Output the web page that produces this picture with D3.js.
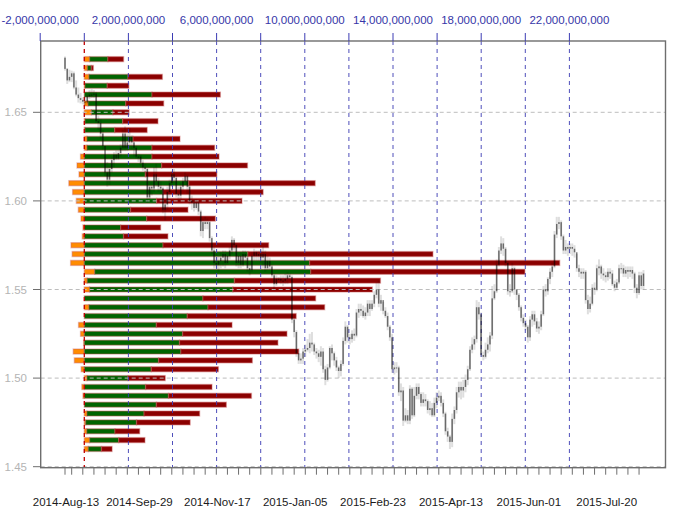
<!DOCTYPE html>
<html><head><meta charset="utf-8">
<script src="https://cdn.jsdelivr.net/npm/d3@7"></script>
<style>body{margin:0;background:#fff}svg{display:block;font-family:"Liberation Sans",Arial,sans-serif}</style>
</head><body><svg id="c" width="680" height="509"></svg>
<script>
// ---- volume profile (billions) ----
const priceLevels = [1.680,1.675,1.670,1.665,1.660,1.655,1.650,1.645,1.640,1.635,1.630,1.625,1.620,1.615,1.610,1.605,1.600,1.595,1.590,1.585,1.580,1.575,1.570,1.565,1.560,1.555,1.550,1.545,1.540,1.535,1.530,1.525,1.520,1.515,1.510,1.505,1.500,1.495,1.490,1.485,1.480,1.475,1.470,1.465,1.460];
const orangeVol = [0.24,0.14,0.21,0.03,0.00,0.17,0.32,0.03,0.03,0.12,0.12,-0.17,-0.33,-0.24,-0.70,-0.53,-0.36,-0.27,-0.15,-0.06,-0.09,-0.60,-0.55,-0.62,0.47,0.13,0.24,0.00,0.21,0.00,-0.26,-0.17,-0.03,-0.50,-0.45,-0.14,0.12,-0.11,-0.06,0.00,0.12,0.06,0.11,0.24,0.18];
const greenVol = [0.83,0.18,1.77,1.01,3.07,1.71,0.98,1.71,1.35,2.09,2.95,3.07,3.51,2.77,4.73,3.57,3.28,2.10,2.83,1.65,1.78,3.57,7.42,10.22,9.80,6.68,6.50,5.38,5.40,4.67,3.27,4.46,4.32,4.38,3.37,3.04,1.86,2.78,3.82,3.27,2.59,2.31,1.28,1.32,0.60];
const redVol = [0.71,0.09,1.56,0.98,3.10,1.72,0.73,1.60,1.47,2.13,2.84,3.04,3.89,3.24,5.74,4.54,3.87,2.60,3.11,1.81,2.01,4.79,8.39,11.34,9.71,6.62,6.32,5.11,5.29,4.94,3.43,4.73,4.46,5.34,4.25,3.04,1.69,3.01,3.76,3.17,2.52,2.43,1.12,1.19,0.48];

// ---- axes ----
const volTicks = [-2e9,0,2e9,4e9,6e9,8e9,10e9,12e9,14e9,16e9,18e9,20e9,22e9];
const volLabels = [-2e9,2e9,6e9,10e9,14e9,18e9,22e9];
const priceTicks = [1.45,1.50,1.55,1.60,1.65];
const dateLabels = ["2014-Aug-13","2014-Sep-29","2014-Nov-17","2015-Jan-05","2015-Feb-23","2015-Apr-13","2015-Jun-01","2015-Jul-20"];

// ---- daily prices (units of 1e-4), 2014-08-13 .. 2015-08-12 weekdays ----
const firstOpen = 16808;
const closeP = [
16745,16680,16700,
16720,16640,16600,16580,16570, 16560,16555,16590,16600,16600, 16605,16450,16440,16380,16310,
16160,16120,16180,16230,16260, 16240,16270,16300,16380,16300, 16330,16360,16330,16300,16250,
16250,16215,16190,16180,16020, 16080,16070,16150,16110,16080, 16070,15950,15980,16050,16100,
16150,16130,16040,16030,16080, 16110,16140,16080,16000,15990, 15960,15990,15940,15830,15880,
15870,15880,15790,15720,15650, 15640,15660,15680,15700,15650, 15690,15720,15780,15750,15650,
15690,15640,15700,15680,15620, 15610,15690,15710,15690,15700, 15680,15700,15620,15660,15630,
15580,15530,15560,15560,15550, 15550,15560,15580,15570,15330, 15260,15140,15100,15110,15150,
15160,15170,15200,15190,15150, 15140,15120,15150,15050,14990, 15060,15170,15140,15100,15060,
15040,15080,15210,15290,15230, 15220,15250,15240,15370,15390, 15380,15350,15370,15420,15390,
15420,15470,15500,15420,15440, 15380,15350,15290,15230,15050, 15060,15060,14920,14930,14760,
14790,14760,14940,14790,14900, 14950,14910,14860,14880,14870, 14820,14830,14790,14860,14890,
14900,14860,14800,14700,14670, 14640,14770,14820,14920,14950, 14930,14950,14990,15050,15160,
15190,15220,15400,15360,15130, 15120,15160,15190,15240,15450, 15490,15640,15720,15760,15730,
15650,15490,15490,15620,15500, 15470,15400,15340,15310,15290, 15230,15330,15360,15320,15280,
15290,15360,15500,15490,15560, 15600,15630,15810,15870,15880, 15800,15720,15740,15730,15740,
15730,15710,15620,15600,15590, 15600,15440,15390,15420,15510, 15500,15620,15630,15590,15580,
15570,15600,15590,15530,15510, 15540,15620,15620,15590,15610, 15600,15610,15590,15510,15480,
15580,15520,15590];
const highP = [
16815,16750,16740,
16735,16730,16680,16640,16610, 16585,16590,16600,16625,16630, 16625,16615,16480,16460,16400,
16250,16220,16200,16250,16275, 16285,16285,16320,16400,16420, 16380,16410,16370,16335,16310,
16265,16260,16230,16210,16185, 16110,16110,16190,16210,16130, 16110,16080,16010,16080,16120,
16170,16180,16140,16080,16100, 16130,16160,16150,16090,16030, 16010,16010,16000,15950,15900,
15910,15900,15890,15800,15740, 15700,15690,15710,15720,15720, 15710,15740,15800,15790,15760,
15710,15710,15720,15720,15700, 15650,15710,15730,15720,15720, 15720,15740,15720,15690,15680,
15640,15590,15580,15570,15580, 15580,15590,15600,15590,15580, 15340,15270,15160,15140,15170,
15190,15220,15250,15260,15200, 15170,15160,15180,15170,15070, 15080,15180,15190,15150,15120,
15070,15100,15230,15320,15300, 15250,15270,15280,15390,15420, 15420,15410,15400,15440,15440,
15440,15490,15540,15550,15470, 15430,15400,15370,15300,15250, 15090,15090,15070,14970,14950,
14830,14820,14960,14950,14950, 14970,14970,14920,14920,14910, 14880,14870,14860,14890,14920,
14930,14920,14880,14810,14720, 14680,14800,14840,14950,14980, 14980,14990,15020,15070,15180,
15230,15240,15440,15430,15370, 15150,15200,15230,15260,15520, 15530,15670,15740,15800,15790,
15740,15660,15530,15650,15630, 15500,15480,15410,15360,15330, 15300,15350,15380,15380,15340,
15320,15380,15520,15530,15570, 15620,15650,15830,15910,15910, 15890,15810,15780,15760,15760,
15760,15750,15700,15640,15620, 15620,15610,15470,15460,15530, 15540,15640,15670,15640,15620,
15600,15620,15620,15610,15550, 15560,15640,15650,15640,15630, 15630,15630,15630,15600,15530,
15600,15600,15610];
const lowP = [
16735,16660,16670,
16670,16630,16590,16555,16550, 16545,16540,16545,16575,16580, 16580,16440,16400,16350,16290,
16140,16080,16090,16160,16190, 16230,16230,16250,16280,16280, 16280,16310,16290,16250,16240,
16220,16200,16170,16150,15990, 16010,16030,16050,16080,16050, 16040,15930,15890,15950,16020,
16080,16100,16020,16000,16010, 16060,16090,16040,15980,15950, 15940,15950,15920,15800,15790,
15840,15840,15770,15700,15620, 15620,15600,15620,15630,15620, 15640,15670,15700,15720,15630,
15620,15620,15630,15650,15600, 15580,15600,15660,15660,15660, 15650,15620,15600,15610,15610,
15570,15500,15520,15550,15530, 15520,15530,15530,15550,15310, 15230,15120,15080,15080,15080,
15120,15150,15140,15150,15130, 15110,15090,15070,15030,14960, 14980,15050,15100,15070,15040,
15000,15010,15070,15190,15200, 15190,15200,15210,15230,15340, 15350,15340,15330,15350,15350,
15380,15400,15450,15400,15380, 15360,15340,15270,15210,15030, 15020,15030,14900,14870,14730,
14750,14740,14740,14770,14780, 14880,14880,14840,14840,14840, 14800,14790,14780,14780,14830,
14870,14840,14780,14680,14640, 14600,14610,14740,14800,14890, 14880,14890,14920,14960,15040,
15140,15160,15200,15330,15120, 15100,15110,15140,15150,15220, 15440,15480,15630,15700,15690,
15630,15470,15460,15480,15470, 15440,15380,15320,15290,15270, 15200,15210,15290,15300,15260,
15250,15270,15350,15460,15470, 15530,15570,15620,15790,15840, 15780,15700,15700,15690,15700,
15690,15680,15600,15570,15560, 15560,15420,15360,15370,15410, 15470,15490,15580,15560,15550,
15540,15550,15560,15520,15490, 15500,15530,15590,15570,15570, 15560,15570,15560,15480,15450,
15470,15500,15500];

// ---- layout ----
const plotL = 40.7, plotR = 665.5, plotT = 41, plotB = 467.7;
const svg = d3.select("#c");

const yS = d3.scaleLinear().domain([1.45, 1.65]).range([466.7, 112.3]);
const xV = d3.scaleLinear().domain([-2e9, 22e9]).range([40.2, 569.4]);
const xT = d3.scaleLinear().domain([0, closeP.length - 1]).range([65, 643.5]);

const tradeDates = d3.timeDay.range(new Date(2014,7,13), new Date(2015,7,13))
  .filter(d => d.getDay() !== 0 && d.getDay() !== 6);
const fmtDate = d3.timeFormat("%Y-%b-%d");
const fmtVol = d3.formatLocale({decimal: ".", thousands: ",", grouping: [3], currency: ["", ""], minus: "-"}).format(",");

svg.append("defs").append("clipPath").attr("id","clip")
  .append("rect").attr("x",plotL).attr("y",plotT).attr("width",plotR-plotL).attr("height",plotB-plotT);
const plotG = svg.append("g").attr("clip-path","url(#clip)");

// ---- volume bars ----
const barH = 5;
const haloCol = "rgba(200,90,90,0.38)";
const barsG = plotG.append("g");
priceLevels.forEach((p, k) => {
  const o = orangeVol[k]*1e9, g = greenVol[k]*1e9, r = redVol[k]*1e9;
  const s = Math.max(0, o);
  const yc = yS(p);
  const segs = [];
  if (o !== 0) segs.push({a: Math.min(0,o), b: Math.max(0,o), c: "#ff8c00"});
  segs.push({a: s, b: s+g, c: "#006400"});
  segs.push({a: s+g, b: s+g+r, c: "#8b0000"});
  segs.forEach(sg => {
    barsG.append("rect")
      .attr("x", xV(sg.a)).attr("y", yc - barH/2)
      .attr("width", Math.max(0, xV(sg.b)-xV(sg.a))).attr("height", barH)
      .attr("fill", sg.c).attr("stroke", haloCol).attr("stroke-width", 1.4);
  });
});

// ---- gridlines ----
const gridG = plotG.append("g");
priceTicks.forEach(p => {
  gridG.append("line").attr("x1",plotL).attr("x2",plotR).attr("y1",yS(p)).attr("y2",yS(p))
    .attr("stroke","#bdbdbd").attr("stroke-width",1).attr("stroke-dasharray","4,3");
});
volTicks.filter(v => v > 0).forEach(v => {
  gridG.append("line").attr("x1",xV(v)).attr("x2",xV(v)).attr("y1",plotT).attr("y2",plotB)
    .attr("stroke","#3c3cb4").attr("stroke-width",1).attr("stroke-dasharray","4,4").attr("opacity",0.9);
});
gridG.append("line").attr("x1",xV(0)).attr("x2",xV(0)).attr("y1",plotT).attr("y2",plotB)
  .attr("stroke","#c00000").attr("stroke-width",1.3).attr("stroke-dasharray","4,4");

// ---- candles ----
const candleG = plotG.append("g");
closeP.forEach((c, i) => {
  const o = (i === 0 ? firstOpen : closeP[i-1]) / 1e4;
  const cl = c / 1e4, hi = highP[i] / 1e4, lo = lowP[i] / 1e4;
  const x = xT(i);
  candleG.append("rect").attr("x", x-1).attr("width", 2)
    .attr("y", yS(hi)).attr("height", Math.max(1, yS(lo)-yS(hi)))
    .attr("fill","rgba(0,0,0,0.13)");
  const yTop = yS(Math.max(o,cl)), yBot = yS(Math.min(o,cl));
  candleG.append("rect").attr("x", x-0.75).attr("width", 1.5)
    .attr("y", yTop).attr("height", Math.max(1, yBot-yTop))
    .attr("fill","rgba(0,0,0,0.52)");
});

// ---- box ----
svg.append("rect").attr("x",plotL).attr("y",plotT).attr("width",plotR-plotL).attr("height",plotB-plotT)
  .attr("fill","none").attr("stroke","#6e6e6e").attr("stroke-width",1.4);

// ---- top (volume) axis ----
const topAx = svg.append("g");
volTicks.forEach(v => {
  topAx.append("line").attr("x1",xV(v)).attr("x2",xV(v)).attr("y1",33).attr("y2",plotT)
    .attr("stroke","#3c3cb4").attr("stroke-width",1);
});
volLabels.forEach(v => {
  topAx.append("text").attr("x",xV(v)).attr("y",24).attr("text-anchor","middle")
    .attr("font-size",11.5).attr("fill","#3636a8").text(fmtVol(v));
});

// ---- left (price) axis ----
const leftAx = svg.append("g");
priceTicks.forEach(p => {
  leftAx.append("line").attr("x1",33).attr("x2",plotL).attr("y1",yS(p)).attr("y2",yS(p))
    .attr("stroke","#6e6e6e").attr("stroke-width",1);
  leftAx.append("text").attr("x",27).attr("y",yS(p)+4).attr("text-anchor","end")
    .attr("font-size",11.5).attr("fill","#b4b4b4").text(p.toFixed(2));
});

// ---- bottom (time) axis ----
const botAx = svg.append("g");
tradeDates.forEach((d, i) => {
  if (i === 0 || d.getDay() === 1) {
    botAx.append("line").attr("x1",xT(i)).attr("x2",xT(i)).attr("y1",plotB).attr("y2",plotB+7)
      .attr("stroke","#6e6e6e").attr("stroke-width",1);
  }
  const s = fmtDate(d);
  if (dateLabels.includes(s)) {
    botAx.append("text").attr("x",xT(i)+1).attr("y",506).attr("text-anchor","middle")
      .attr("font-size",11.5).attr("fill","#1a1a1a").text(s);
  }
});
</script></body></html>
